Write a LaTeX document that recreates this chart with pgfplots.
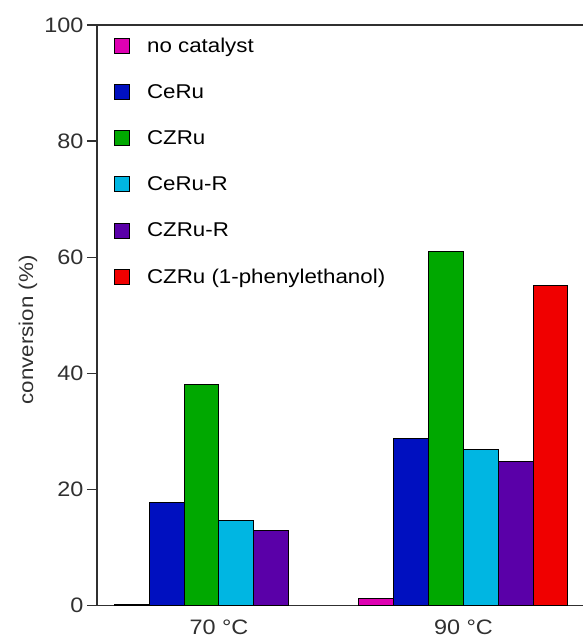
\documentclass[border=0pt]{standalone}
\usepackage{pgfplots}
\pgfplotsset{compat=1.18}
\usepackage{fontspec}
\setmainfont{Liberation Sans}[FakeStretch=1.12]
\usetikzlibrary{calc}

\definecolor{cNone}{RGB}{222,0,178}
\definecolor{cCeRu}{RGB}{0,16,192}
\definecolor{cCZRu}{RGB}{0,168,0}
\definecolor{cCeRuR}{RGB}{0,182,226}
\definecolor{cCZRuR}{RGB}{90,0,168}
\definecolor{cPhen}{RGB}{240,0,0}
\definecolor{axgray}{RGB}{48,48,48}

\begin{document}
\begin{tikzpicture}
\begin{axis}[
  scale only axis,
  width=486bp, height=580.5bp,
  xmin=-0.499, xmax=1.489,
  ymin=0, ymax=100,
  axis x line*=box, axis y line*=left,
  axis line style={axgray, line width=1.3bp},
  ytick={0,20,40,60,80,100},
  tick align=outside,
  major tick length=10bp,
  ytick style={axgray, line width=1.3bp},
  xtick={0,1},
  xticklabels={70 °C, 90 °C},
  xtick style={draw=none},
  xticklabel style={yshift=-1bp},
  tick label style={font=\fontsize{21}{25}\selectfont, text=axgray},
  /pgf/number format/assume math mode=true,
  ylabel={conversion (\%)},
  ylabel style={font=\fontsize{20}{24}\selectfont, text=axgray,
    at={(axis description cs:-0.142,0.475)}, anchor=center},
  ybar=0pt, bar width=0.1425,
  every axis plot/.append style={draw=black, line width=1bp},
  legend style={draw=none, fill=none, inner sep=0pt,
    at={(0.035,0.982)}, anchor=north west,
    row sep=26.8bp, column sep=15bp,
    font=\fontsize{20}{24}\selectfont,
    cells={anchor=west}},
  legend image code/.code={
    \draw[#1, draw=black, line width=0.9bp] (0bp,-7.5bp) rectangle (15bp,7.5bp);},
  clip=false,
]
\addplot[fill=cNone]  coordinates {(0,0.2) (1,1.2)};
\addplot[fill=cCeRu]  coordinates {(0,17.8) (1,28.8)};
\addplot[fill=cCZRu]  coordinates {(0,38.0) (1,60.9)};
\addplot[fill=cCeRuR] coordinates {(0,14.7) (1,26.9)};
\addplot[fill=cCZRuR] coordinates {(0,12.9) (1,24.8)};
\addplot[fill=cPhen]  coordinates {(1,55.1)};
\legend{no catalyst, CeRu, CZRu, CeRu-R, CZRu-R, CZRu (1-phenylethanol)}
\coordinate (bl) at (rel axis cs:0,0);
\coordinate (tr) at (rel axis cs:1,1);
\end{axis}
\pgfresetboundingbox
\path[use as bounding box] ($(bl)+(-97bp,-35.5bp)$) rectangle ($(tr)+(0bp,25bp)$);
\end{tikzpicture}
\end{document}
